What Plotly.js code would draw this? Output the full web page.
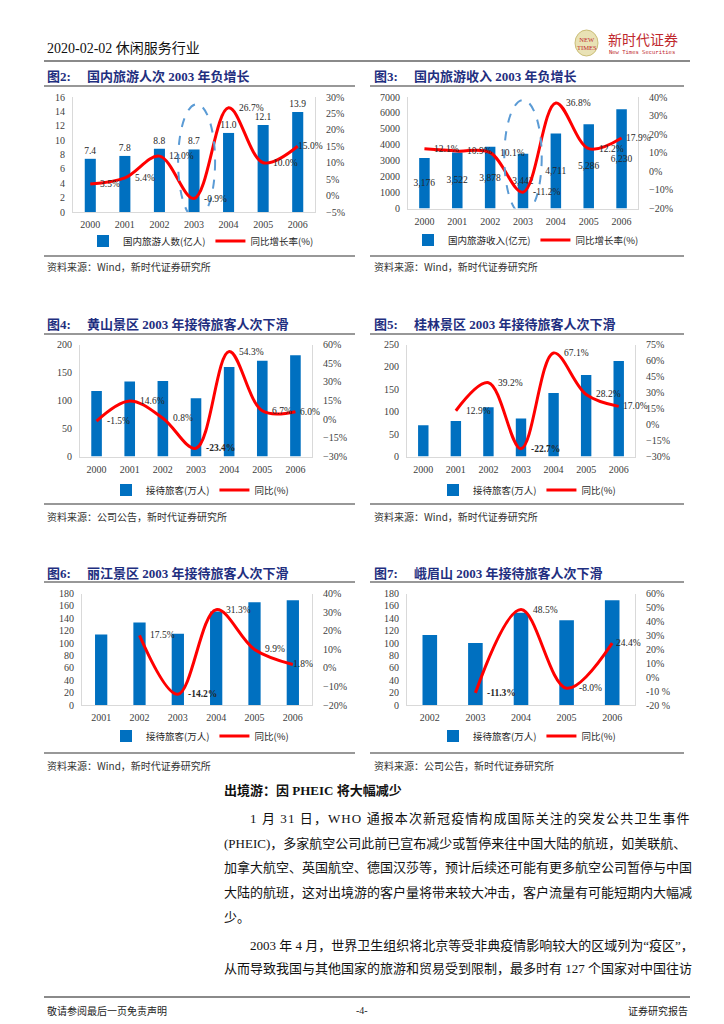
<!DOCTYPE html>
<html><head><meta charset="utf-8">
<script src="https://cdn.plot.ly/plotly-3.0.1.min.js"></script>
<style>html,body{margin:0;padding:0;background:#fff}</style>
</head><body><div id="chart" style="width:724px;height:1024px"></div>
<script>
// ---------------- data ----------------
const years2 = ['2000','2001','2002','2003','2004','2005','2006'];
const visitors2 = [7.4, 7.8, 8.8, 8.7, 11.0, 12.1, 13.9];
const growth2 = [3.5, 5.4, 12.0, -0.9, 26.7, 10.0, 15.0];

const years3 = ['2000','2001','2002','2003','2004','2005','2006'];
const revenue3 = [3176, 3522, 3878, 3442, 4711, 5286, 6230];
const growth3 = [12.1, 10.9, 10.1, -11.2, 36.8, 12.2, 17.9];

const years4 = ['2000','2001','2002','2003','2004','2005','2006'];
const huangshan4 = [117, 134, 135, 104, 160, 171, 181];
const growth4 = [-1.5, 14.6, 0.8, -23.4, 54.3, 6.7, 6.0];

const years5 = ['2000','2001','2002','2003','2004','2005','2006'];
const guilin5 = [70, 79, 110, 85, 142, 182, 213];
const growth5 = [null, 12.9, 39.2, -22.7, 67.1, 28.2, 17.0];

const years6 = ['2001','2002','2003','2004','2005','2006'];
const lijiang6 = [114, 133, 115, 151, 166, 169];
const growth6 = [null, 17.5, -14.2, 31.3, 9.9, 1.8];

const years7 = ['2002','2003','2004','2005','2006'];
const emei7 = [113, 100, 149, 137, 169];
const growth7 = [null, -11.3, 48.5, -8.0, 24.4];
const rightTickVals7 = [-20, -10, 0, 10, 20, 30, 40, 50, 60];
const rightTickText7 = ['-20 %', '-10 %', '0%', '10%', '20%', '30%', '40%', '50%', '60%'];

const bodyLines = [
  '1 月 31 日，WHO 通报本次新冠疫情构成国际关注的突发公共卫生事件',
  '(PHEIC)，多家航空公司此前已宣布减少或暂停来往中国大陆的航班，如美联航、',
  '加拿大航空、英国航空、德国汉莎等，预计后续还可能有更多航空公司暂停与中国',
  '大陆的航班，这对出境游的客户量将带来较大冲击，客户流量有可能短期内大幅减',
  '少。',
  '2003 年 4 月，世界卫生组织将北京等受非典疫情影响较大的区域列为“疫区”，',
  '从而导致我国与其他国家的旅游和贸易受到限制，最多时有 127 个国家对中国往访'
];

// ---------------- layout helpers ----------------
const W = 724, H = 1024;
const SERIF = 'Liberation Serif, Noto Sans CJK SC, serif';
const CJK = 'Noto Sans CJK SC, sans-serif';
const TXT = '#262626';
const fx = x => x / W, fy = y => 1 - y / H;

const charts = [
  {fig:'图2:', title:'国内旅游人次 2003 年负增长', cats:years2, bars:visitors2, line:growth2,
   barName:'国内旅游人数(亿人)', lineName:'同比增长率(%)', L:73, R:315, T:97, B:212,
   yl:[0,16], dl:2, yr:[-5,30], dr:5, barText:'outside', bold:[], ellipse:[2.54,3.61,-1,15],
   shift:8, lastShift:-2,
   lx:201, ly:241, col:0, row:0, src:'资料来源：Wind，新时代证券研究所'},
  {fig:'图3:', title:'国内旅游收入 2003 年负增长', cats:years3, bars:revenue3, line:growth3,
   barName:'国内旅游收入(亿元)', lineName:'同比增长率(%)', L:408, R:638, T:97, B:208.5,
   yl:[0,7000], dl:1000, yr:[-20,40], dr:10, barText:'inside', bold:[], ellipse:[2.43,3.57,-380,6810],
   shift:8, lastShift:2,
   lx:526, ly:240, col:1, row:0, src:'资料来源：Wind，新时代证券研究所'},
  {fig:'图4:', title:'黄山景区 2003 年接待旅客人次下滑', cats:years4, bars:huangshan4, line:growth4,
   barName:'接待旅客(万人)', lineName:'同比(%)', L:80, R:312, T:344.5, B:456.5,
   yl:[0,200], dl:50, yr:[-30,60], dr:15, barText:'none', bold:[3],
   shift:8, lastShift:3,
   lx:200, ly:490, col:0, row:1, src:'资料来源：公司公告，新时代证券研究所'},
  {fig:'图5:', title:'桂林景区 2003 年接待旅客人次下滑', cats:years5, bars:guilin5, line:growth5,
   barName:'接待旅客(万人)', lineName:'同比(%)', L:407, R:635, T:344.5, B:456.5,
   yl:[0,250], dl:50, yr:[-30,75], dr:15, barText:'none', bold:[3],
   shift:8, lastShift:2,
   lx:527, ly:490, col:1, row:1, src:'资料来源：Wind，新时代证券研究所'},
  {fig:'图6:', title:'丽江景区 2003 年接待旅客人次下滑', cats:years6, bars:lijiang6, line:growth6,
   barName:'接待旅客(万人)', lineName:'同比(%)', L:82, R:312, T:593.5, B:705,
   yl:[0,180], dl:20, yr:[-20,40], dr:10, barText:'none', bold:[2],
   shift:8, lastShift:-2,
   lx:200, ly:736, col:0, row:2, src:'资料来源：Wind，新时代证券研究所'},
  {fig:'图7:', title:'峨眉山 2003 年接待旅客人次下滑', cats:years7, bars:emei7, line:growth7,
   barName:'接待旅客(万人)', lineName:'同比(%)', L:407, R:635, T:593.5, B:705,
   yl:[0,180], dl:20, yr:[-20,60], dr:10, barText:'none', bold:[1],
   rtv:rightTickVals7, rtt:rightTickText7, shift:10, lastShift:2,
   lx:527, ly:736, col:1, row:2, src:'资料来源：公司公告，新时代证券研究所'}
];

const colX = [{t:45, c:85, l0:44, l1:355}, {t:372, c:412, l0:370, l1:684}];
const rowY = [{t:76, tl:86, sl:256, s:266}, {t:324, tl:334, sl:504, s:516}, {t:573, tl:582, sl:753, s:765}];

const traces = [];
const layout = {
  width: W, height: H, margin:{l:0,r:0,t:0,b:0}, paper_bgcolor:'#fff', plot_bgcolor:'rgba(0,0,0,0)',
  showlegend:true, annotations:[], shapes:[], font:{family:SERIF, color:TXT}
};

function ann(text, x, y, font, extra) {
  return Object.assign({text, x:fx(x), y:fy(y), xref:'paper', yref:'paper', showarrow:false,
    xanchor:'left', yanchor:'middle', font}, extra || {});
}
function hline(x0, x1, y, color, width) {
  return {type:'line', xref:'paper', yref:'paper', x0:fx(x0), x1:fx(x1), y0:fy(y), y1:fy(y),
    line:{color, width}};
}

const axisCommon = {
  showline:true, linecolor:'#D9D9D9', linewidth:1, showgrid:false, zeroline:false, ticks:'',
  tickfont:{family:SERIF, size:10, color:'#404040'}, fixedrange:true
};

charts.forEach((c, i) => {
  const xi = i + 1, yli = 2 * i + 1, yri = 2 * i + 2;
  const xId = xi === 1 ? 'x' : 'x' + xi;
  const ylId = yli === 1 ? 'y' : 'y' + yli;
  const yrId = 'y' + yri;
  const xKey = xi === 1 ? 'xaxis' : 'xaxis' + xi;
  const ylKey = yli === 1 ? 'yaxis' : 'yaxis' + yli;
  const yrKey = 'yaxis' + yri;
  const lgKey = i === 0 ? 'legend' : 'legend' + (i + 1);
  const n = c.cats.length;

  layout[xKey] = Object.assign({}, axisCommon, {domain:[fx(c.L), fx(c.R)], anchor:ylId,
    type:'category', range:[-0.5, n - 0.5], ticklabelstandoff:3});
  layout[ylKey] = Object.assign({}, axisCommon, {domain:[fy(c.B), fy(c.T)], anchor:xId,
    range:c.yl, tick0:c.yl[0], dtick:c.dl, ticklabelstandoff:5});
  const yr = Object.assign({}, axisCommon, {overlaying:ylId, side:'right', anchor:xId,
    range:c.yr, ticklabelstandoff:8});
  if (c.rtv) { yr.tickmode = 'array'; yr.tickvals = c.rtv; yr.ticktext = c.rtt; }
  else { yr.tick0 = c.yr[0]; yr.dtick = c.dr; yr.ticksuffix = '%'; }
  layout[yrKey] = yr;

  layout[lgKey] = {orientation:'h', x:fx(c.lx), y:fy(c.ly), xanchor:'center', yanchor:'middle',
    font:{family:CJK, size:9.5, color:TXT}, bgcolor:'rgba(0,0,0,0)', itemwidth:30,
    traceorder:'normal', itemclick:false, itemdoubleclick:false};

  const bar = {type:'bar', x:c.cats, y:c.bars, name:c.barName, xaxis:xId, yaxis:ylId,
    legend:lgKey, marker:{color:'#0070C0'}, width:0.32, hoverinfo:'skip',
    textfont:{family:SERIF, size:9.5, color:TXT}, constraintext:'none', cliponaxis:false};
  if (c.barText === 'outside') {
    bar.texttemplate = '%{y:.1f}'; bar.textposition = 'outside';
  } else if (c.barText === 'inside') {
    bar.texttemplate = '%{y:,}'; bar.textposition = 'inside'; bar.insidetextanchor = 'middle';
    bar.textangle = 0;
  } else {
    bar.textposition = 'none';
  }
  traces.push(bar);

  traces.push({type:'scatter', mode:'lines', x:c.cats, y:c.line, name:c.lineName,
    xaxis:xId, yaxis:yrId, legend:lgKey, connectgaps:false, hoverinfo:'skip',
    line:{color:'#FF0000', width:3, shape:'spline', smoothing:1}});

  // value labels of the growth line, placed at each data point via the axes
  // (category axes take the category's serial number as x)
  c.line.forEach((v, k) => {
    if (v == null) return;
    const s = v.toFixed(1) + '%';
    layout.annotations.push({xref:xId, yref:yrId, x:k, y:v, showarrow:false,
      text: c.bold.includes(k) ? '<b>' + s + '</b>' : s,
      xanchor:'left', yanchor:'middle', xshift: k === n - 1 ? c.lastShift : c.shift,
      font:{family:SERIF, size:9.5, color:TXT}});
  });

  if (c.ellipse) {
    layout.shapes.push({type:'circle', xref:xId, yref:ylId,
      x0:c.ellipse[0], x1:c.ellipse[1], y0:c.ellipse[2], y1:c.ellipse[3],
      line:{color:'#5B9BD5', width:2, dash:'dash'}});
  }

  const cx = colX[c.col], ry = rowY[c.row];
  const titleFont = {family:SERIF, size:13, color:'#1F2F80', weight:'bold'};
  layout.annotations.push(ann('<b>' + c.fig + '</b>', cx.t, ry.t, titleFont));
  layout.annotations.push(ann('<b>' + c.title + '</b>', cx.c, ry.t, titleFont));
  layout.shapes.push(hline(cx.l0, cx.l1, ry.tl, '#333', 1.2));
  layout.shapes.push(hline(cx.l0, cx.l1, ry.sl, '#333', 1.2));
  layout.annotations.push(ann(c.src, cx.t, ry.s, {family:CJK, size:10, color:'#333'}));
});

// ---------------- page header / footer ----------------
layout.annotations.push(ann('2020-02-02 休闲服务行业', 45, 48, {family:SERIF, size:14, color:'#111'}));
layout.shapes.push(hline(44, 690, 61, '#8A8A8A', 2));
layout.shapes.push({type:'circle', xref:'paper', yref:'paper', x0:fx(575), x1:fx(598), y0:fy(56), y1:fy(30),
  fillcolor:'#E9E2B5', line:{color:'#CBBE78', width:1}});
layout.annotations.push(ann('NEW<br>TIMES', 586.5, 43, {family:SERIF, size:6.5, color:'#C0282D'}, {xanchor:'center'}));
layout.annotations.push(ann('新时代证券', 606, 39, {family:CJK, size:14, color:'#C0282D'}));
layout.annotations.push(ann('New Times Securities', 607, 52, {family:'DejaVu Sans Mono, monospace', size:5.5, color:'#C0282D'}));

layout.shapes.push(hline(44, 690, 997, '#8A8A8A', 2));
layout.annotations.push(ann('敬请参阅最后一页免责声明', 45, 1010, {family:CJK, size:10, color:'#222'}));
layout.annotations.push(ann('-4-', 362, 1010, {family:SERIF, size:10, color:'#222'}, {xanchor:'center'}));
layout.annotations.push(ann('证券研究报告', 690, 1010, {family:CJK, size:10, color:'#222'}, {xanchor:'right'}));

// ---------------- body text ----------------
layout.annotations.push(ann('<b>出境游：因 PHEIC 将大幅减少</b>', 222, 790, {family:SERIF, size:13, color:'#111'}));
const bodyY = [818, 843, 867, 892, 917, 945, 968];
const bodyX = [248, 222, 222, 222, 222, 248, 222];
const bodySpread = [true, false, false, false, false, false, false];
bodyLines.forEach((t, k) => {
  const s = bodySpread[k] ? Array.from(t).join('\u200A') : t;
  layout.annotations.push(ann(s, bodyX[k], bodyY[k], {family:SERIF, size:13, color:'#111'}));
});

Plotly.newPlot('chart', traces, layout, {staticPlot:true, displayModeBar:false});
</script>
</body></html>
